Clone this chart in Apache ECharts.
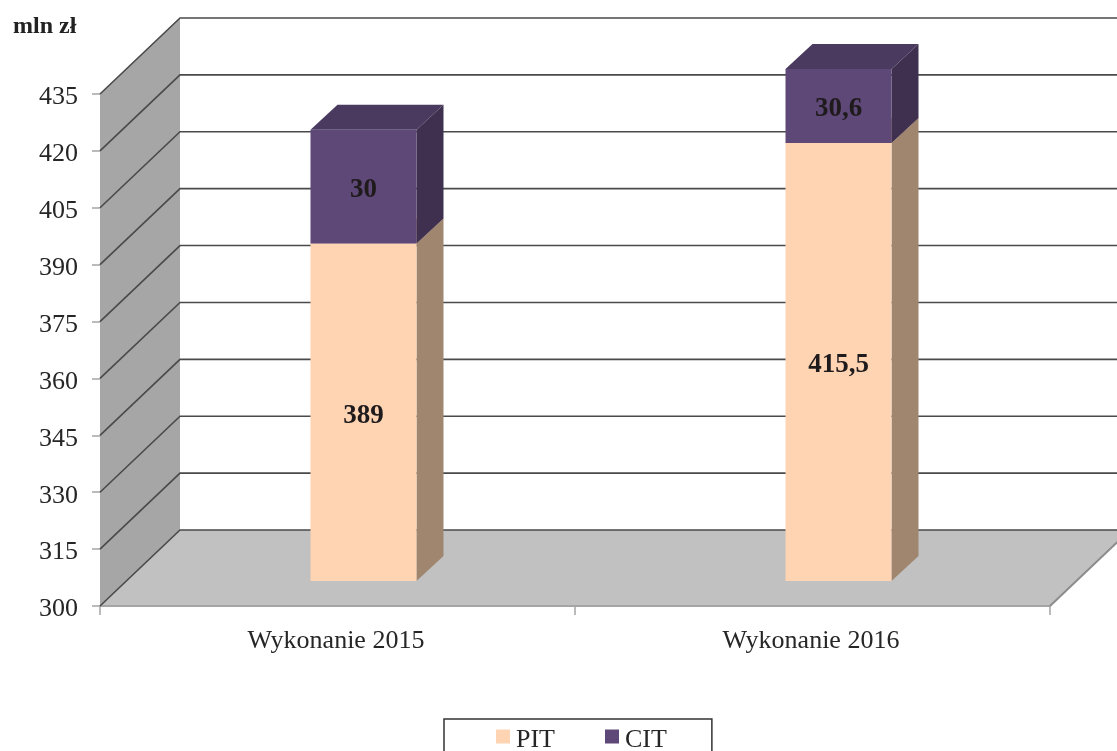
<!DOCTYPE html>
<html>
<head>
<meta charset="utf-8">
<title>PIT i CIT</title>
<style>
  html, body { margin: 0; padding: 0; background: #fff; overflow: hidden; }
  #chart { width: 1117px; height: 751px; }
</style>
<script src="https://cdn.jsdelivr.net/npm/echarts@6/dist/echarts.min.js"></script>
</head>
<body>
<div id="chart"></div>
<script>
const categories = ["Wykonanie 2015", "Wykonanie 2016"];
const pit = [389, 415.5];
const cit = [30, 30.6];
const yTicks = [300, 315, 330, 345, 360, 375, 390, 405, 420, 435];

const yMin = 300;
const yMax = 435;
const fontName = '"Liberation Serif", serif';

// przesuniecia "3D" w pikselach
const wallDx = 80, wallDy = -76;
const barDx = 26, barDy = -25;
const barW = 106, barDepthX = 27, barDepthY = -25;

function poly(points, fill, z2) {
  return { type: "polygon", z2: z2 || 0, shape: { points }, style: { fill } };
}

// sciana boczna i podloga
function renderWalls(params, api) {
  const r = params.coordSys;
  const left = r.x, right = r.x + r.width, top = r.y, bottom = r.y + r.height;
  return {
    type: "group",
    children: [
      poly([[left, top], [left + wallDx, top + wallDy], [left + wallDx, bottom + wallDy], [left, bottom]], "#a6a6a6"),
      poly([[left, bottom], [left + wallDx, bottom + wallDy], [right + wallDx, bottom + wallDy], [right, bottom]], "#c1c1c1"),
      { type: "line", shape: { x1: left, y1: bottom, x2: right, y2: bottom }, style: { stroke: "#a5a5a5", lineWidth: 2 } },
      { type: "line", shape: { x1: right, y1: bottom, x2: right + wallDx, y2: bottom + wallDy }, style: { stroke: "#8c8c8c", lineWidth: 2 } },
    ],
  };
}

// linie siatki: po scianie i po tylnej plaszczyznie
function renderGridLine(params, api) {
  const r = params.coordSys;
  const p = api.coord([0, api.value(0)]);
  const y = p[1];
  return {
    type: "polyline",
    shape: { points: [[r.x, y], [r.x + wallDx, y + wallDy], [r.x + r.width + wallDx, y + wallDy]] },
    style: { fill: "none", stroke: "#4a4a4a", lineWidth: 1.6 },
  };
}

function makeBarRender(front, side, topFace) {
  return function (params, api) {
    const i = api.value(0);
    const from = api.value(1);
    const to = Math.min(api.value(2), yMax); // slupek uciety na max osi
    const c = api.coord([i, from]);
    const y0 = c[1] + barDy;
    const y1 = api.coord([i, to])[1] + barDy;
    const x0 = c[0] + barDx - barW / 2;
    const x1 = x0 + barW;
    return {
      type: "group",
      children: [
        poly([[x0, y1], [x1, y1], [x1 + barDepthX, y1 + barDepthY], [x0 + barDepthX, y1 + barDepthY]], topFace),
        poly([[x1, y0], [x1 + barDepthX, y0 + barDepthY], [x1 + barDepthX, y1 + barDepthY], [x1, y1]], side),
        poly([[x0, y0], [x1, y0], [x1, y1], [x0, y1]], front),
        {
          type: "text",
          z2: 5,
          style: {
            x: (x0 + x1) / 2,
            y: (y0 + y1) / 2 + 3.5,
            text: String(api.value(3)).replace(".", ","),
            align: "center",
            verticalAlign: "middle",
            font: 'bold 27px ' + fontName,
            fill: "#1f1a1c",
          },
        },
      ],
    };
  };
}

const chart = echarts.init(document.getElementById("chart"));
chart.setOption({
  animation: false,
  backgroundColor: "#fff",
  title: {
    text: "mln zł",
    left: 13,
    top: 15,
    padding: 0,
    textStyle: { fontFamily: fontName, fontSize: 24, fontWeight: "bold", color: "#222" },
  },
  legend: {
    data: ["PIT", "CIT"],
    left: 444,
    top: 719,
    padding: [8, 45, 14, 52],
    itemWidth: 14,
    itemHeight: 14,
    itemGap: 50,
    borderColor: "#333",
    borderWidth: 1.5,
    icon: "rect",
    formatter: "{t|{name}}",
    textStyle: {
      rich: { t: { fontFamily: fontName, fontSize: 26, color: "#262626", padding: [7, 0, 0, 1] } },
    },
  },
  grid: { left: 100, right: 67, top: 94, bottom: 145 },
  xAxis: {
    type: "category",
    data: categories,
    axisLine: { lineStyle: { color: "#a5a5a5", width: 1 } },
    axisTick: { show: true, length: 9, lineStyle: { color: "#a5a5a5", width: 1.5 } },
    axisLabel: { fontFamily: fontName, fontSize: 26, color: "#262626", margin: 22, padding: [0, 3, 0, 0] },
    splitLine: { show: false },
  },
  yAxis: {
    type: "value",
    min: yMin,
    max: yMax,
    interval: 15,
    axisLine: { show: true, lineStyle: { color: "#a5a5a5", width: 1 } },
    axisTick: { show: true, length: 8, lineStyle: { color: "#a5a5a5", width: 1.5 } },
    axisLabel: {
      margin: 22,
      formatter: "{t|{value}}",
      rich: { t: { fontFamily: fontName, fontSize: 26, color: "#262626", padding: [7, 0, 0, 0] } },
    },
    splitLine: { show: false },
  },
  series: [
    { type: "custom", name: "walls", silent: true, z: 1, clip: false, renderItem: renderWalls, data: [[0]] },
    {
      type: "custom",
      name: "grid",
      silent: true,
      z: 2,
      clip: false,
      renderItem: renderGridLine,
      data: yTicks.map((t) => [t]),
      encode: { y: 0 },
    },
    {
      type: "custom",
      name: "PIT",
      z: 3,
      clip: false,
      itemStyle: { color: "#fed4b3" },
      renderItem: makeBarRender("#fed4b3", "#a0866f", "#c4a58c"),
      data: categories.map((c, i) => [i, yMin, pit[i], pit[i]]),
      encode: { x: 0, y: 2 },
    },
    {
      type: "custom",
      name: "CIT",
      z: 4,
      clip: false,
      itemStyle: { color: "#5e4877" },
      renderItem: makeBarRender("#5e4877", "#3f3050", "#4a3a60"),
      data: categories.map((c, i) => [i, pit[i], pit[i] + cit[i], cit[i]]),
      encode: { x: 0, y: 2 },
    },
  ],
});
</script>
</body>
</html>
